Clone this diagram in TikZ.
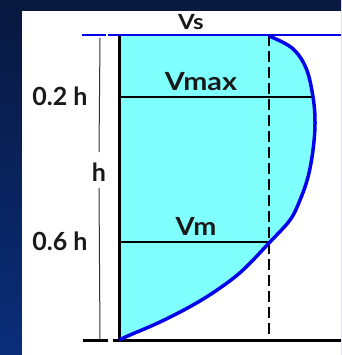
\documentclass[tikz,border=0pt]{standalone}
\usepackage{fontspec}
\setmainfont{Lato}
\usepackage{xcolor}
\usetikzlibrary{positioning, calc}
\definecolor{navydark}{RGB}{8,24,62}
\definecolor{navylight}{RGB}{10,46,122}
\definecolor{aqua}{RGB}{128,255,255}
\definecolor{flowblue}{RGB}{0,0,235}
\tikzset{
  lbl/.style      = {font=\fontsize{25}{27}\selectfont\bfseries, text=black!90, inner sep=0pt},
  axisline/.style = {line width=3pt, draw=black},
  dimline/.style  = {line width=1pt, draw=black!80},
  level/.style    = {line width=1.6pt, draw=black},
  guide/.style    = {line width=1.2pt, draw=black, dash pattern=on 11pt off 5pt},
  surface/.style  = {line width=2.5pt, draw=flowblue},
  profile/.style  = {line width=3.5pt, draw=flowblue, line join=round}
}
\newcommand{\profilepts}{(269,36) (292,48) (306,68) (313,97) (315,123) (313,150)
  (308,177) (300,200) (290,220) (269,243) (243,270) (220,288) (193,305)
  (160,322) (130,335) (119,340)}
\begin{document}
\begin{tikzpicture}[x=1pt, y=-1pt]
    \useasboundingbox (0,0) rectangle (341,355);

    % ── Background ─────────────────────────────────────────────────────
    \shade[top color=navydark, bottom color=navylight] (0,0) rectangle (341,355);
    \fill[white] (22,11) rectangle (341,355);

    % ── Key points ─────────────────────────────────────────────────────
    \coordinate (top)   at (119,35);
    \coordinate (bed)   at (119,340);
    \coordinate (dtop)  at (269,35);
    \coordinate (dbed)  at (269,340);
    \coordinate (pmax)  at (313,97);
    \coordinate (pm)    at (269,242);

    % ── Velocity profile (filled) ──────────────────────────────────────
    \fill[aqua] (top) -- (dtop)
      -- plot[smooth, tension=0.6] coordinates {\profilepts} -- cycle;

    % ── Dashed mean-velocity guide ─────────────────────────────────────
    \draw[guide] (dtop) -- (dbed);

    % ── Level lines ────────────────────────────────────────────────────
    \draw[level] (119,97) -- (pmax);
    \draw[level] (119,242) -- (pm);

    % ── Surface and bed ────────────────────────────────────────────────
    \draw[surface] (82,35) -- (106,35);
    \draw[surface] (108,35) -- (341,35);
    \draw[axisline] (83,340) -- (108,340);
    \draw[axisline] (113,340) -- (341,340);

    % ── Vertical axis ──────────────────────────────────────────────────
    \draw[axisline] (119,36) -- (bed);

    % ── Profile curve ──────────────────────────────────────────────────
    \draw[profile] plot[smooth, tension=0.6] coordinates {\profilepts};

    % ── Labels ─────────────────────────────────────────────────────────
    \node[lbl, font=\fontsize{21}{23}\selectfont\bfseries, xscale=1.15] (vs) at (191,22) {Vs};
    \node[lbl, xscale=1.15] (vmax) at (201,82)  {Vmax};
    \node[lbl, xscale=1.1] (vm)   at (196,226) {Vm};
    \node[lbl] (hlbl) at (99,172)  {h};
    \node[lbl] (h02)  at (60,96)   {0.2 h};
    \node[lbl] (h06)  at (60,241)  {0.6 h};

    % ── Depth dimension line ───────────────────────────────────────────
    \coordinate (dimtop) at (100,38);
    \coordinate (dimbot) at (100,340);
    \draw[dimline] (dimtop) -- (hlbl.north |- 0,152);
    \draw[dimline] (hlbl.south |- 0,188) -- (dimbot);

  \end{tikzpicture}
\end{document}
